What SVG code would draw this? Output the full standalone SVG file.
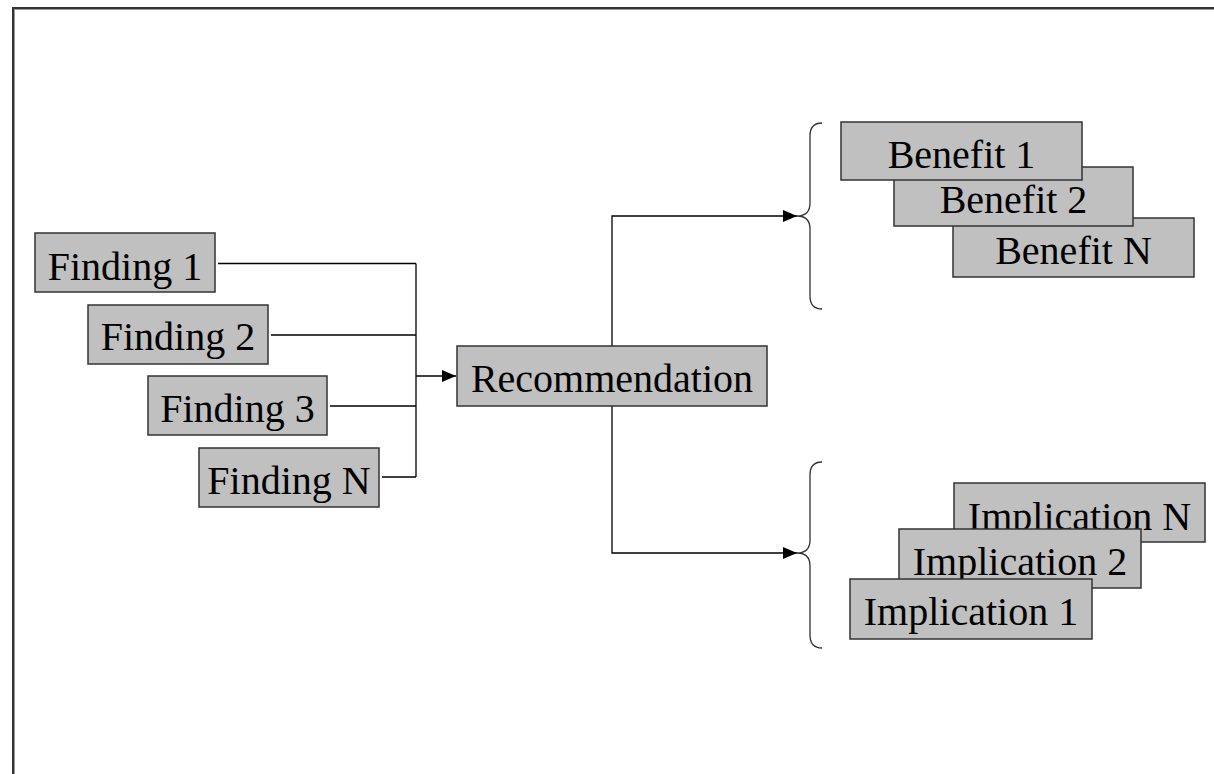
<svg xmlns="http://www.w3.org/2000/svg" width="1214" height="774" viewBox="0 0 1214 774">
  <defs>
    <marker id="arrow" viewBox="0 0 14 12" refX="14" refY="6" markerWidth="14" markerHeight="12" markerUnits="userSpaceOnUse" orient="auto">
      <path d="M0,0 L14,6 L0,12 Z" fill="#000"/>
    </marker>
    <style>
      .box { fill: #c0c0c0; stroke: #333; stroke-width: 1.5; }
      .label { font-family: "Liberation Serif", "Times New Roman", serif; font-size: 40px; fill: #000; text-anchor: middle; }
      .wire { fill: none; stroke: #000; stroke-width: 1.3; }
      .brace { fill: none; stroke: #333; stroke-width: 1.3; }
      .frame { stroke: #333; stroke-width: 2; }
      .frame-inner { stroke: #999; stroke-width: 1; }
    </style>
  </defs>

  <rect width="1214" height="774" fill="#fff"/>

  <!-- page frame (top and left edges) -->
  <g id="frame">
    <line class="frame" x1="12" y1="8" x2="1214" y2="8"/>
    <line class="frame-inner" x1="14" y1="9.5" x2="1214" y2="9.5"/>
    <line class="frame" x1="13" y1="7" x2="13" y2="774"/>
    <line class="frame-inner" x1="14.5" y1="9" x2="14.5" y2="774"/>
  </g>

  <!-- connectors -->
  <g id="connectors">
    <path class="wire" d="M218,263.5 H416 M271,335 H416 M330,406 H416 M382,477 H416 M416,263.5 V477"/>
    <path class="wire" d="M416,376 H456" marker-end="url(#arrow)"/>
    <path class="wire" d="M612,346 V216 H797" marker-end="url(#arrow)"/>
    <path class="wire" d="M612,406 V553 H797" marker-end="url(#arrow)"/>
    <path class="brace" d="M822,123 Q810,123 810,136 V203 Q810,216 797,216 Q810,216 810,229 V296 Q810,309 822,309"/>
    <path class="brace" d="M822,462 Q810,462 810,475 V540 Q810,553 797,553 Q810,553 810,566 V635 Q810,648 822,648"/>
  </g>

  <!-- findings -->
  <g id="finding-1">
    <rect class="box" x="35" y="233" width="180" height="59"/>
    <text class="label" x="125" y="280">Finding 1</text>
  </g>
  <g id="finding-2">
    <rect class="box" x="88" y="305" width="180" height="59"/>
    <text class="label" x="178" y="350">Finding 2</text>
  </g>
  <g id="finding-3">
    <rect class="box" x="148" y="376" width="179" height="59"/>
    <text class="label" x="237.5" y="422">Finding 3</text>
  </g>
  <g id="finding-n">
    <rect class="box" x="199" y="448" width="180" height="59"/>
    <text class="label" x="289" y="494">Finding N</text>
  </g>

  <!-- recommendation -->
  <g id="recommendation">
    <rect class="box" x="457" y="346" width="310" height="60"/>
    <text class="label" x="612" y="392">Recommendation</text>
  </g>

  <!-- benefits (stacked, first on top) -->
  <g id="benefit-n">
    <rect class="box" x="953" y="218" width="241" height="59"/>
    <text class="label" x="1073.5" y="264">Benefit N</text>
  </g>
  <g id="benefit-2">
    <rect class="box" x="894" y="167" width="239" height="59"/>
    <text class="label" x="1013.5" y="213">Benefit 2</text>
  </g>
  <g id="benefit-1">
    <rect class="box" x="841" y="122" width="241" height="58"/>
    <text class="label" x="961.5" y="168">Benefit 1</text>
  </g>

  <!-- implications (stacked, first on top) -->
  <g id="implication-n">
    <rect class="box" x="954" y="483" width="251" height="59"/>
    <text class="label" x="1079.5" y="530">Implication N</text>
  </g>
  <g id="implication-2">
    <rect class="box" x="899" y="529" width="242" height="59"/>
    <text class="label" x="1020" y="575">Implication 2</text>
  </g>
  <g id="implication-1">
    <rect class="box" x="850" y="579" width="242" height="60"/>
    <text class="label" x="971" y="625">Implication 1</text>
  </g>
</svg>
